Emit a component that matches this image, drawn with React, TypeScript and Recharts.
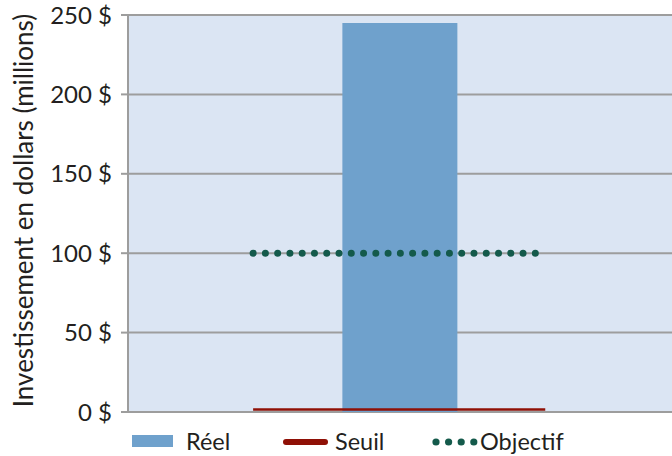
import React from "react";
import {
  ComposedChart,
  Bar,
  Line,
  XAxis,
  YAxis,
  CartesianGrid,
  Legend,
} from "recharts";

// Positions along the category span (0..1) of the single group
const xPositions = [0.23, 0.5, 0.767];
const reelValues = [null, 245, null];
const seuilValues = [1.5, null, 1.5];
const objectifValues = [100, null, 100];
const yTicks = [0, 50, 100, 150, 200, 250];
const yAxisTitle = "Investissement en dollars (millions)";
const legendLabels = ["Réel", "Seuil", "Objectif"];

const data = xPositions.map((x, i) => ({
  x,
  reel: reelValues[i],
  seuil: seuilValues[i],
  objectif: objectifValues[i],
}));

const FONT = "Lato, 'Open Sans', sans-serif";
const TEXT = "#231f20";
const GRID = "#9d9d9d";
const BG = "#dbe5f3";
const BLUE = "#6fa1cc";
const RED = "#8f1006";
const GREEN = "#145a4b";

const LegendContent = () => (
  <svg width={672} height={36} style={{ display: "block" }}>
    <rect x={132} y={15} width={41} height={12} fill={BLUE} />
    <text x={186} y={30} fontFamily={FONT} fontSize={23.5} fill={TEXT}>
      {legendLabels[0]}
    </text>
    <line x1={286} y1={22} x2={325} y2={22} stroke={RED} strokeWidth={6} strokeLinecap="round" />
    <text x={335} y={30} fontFamily={FONT} fontSize={23.5} fill={TEXT}>
      {legendLabels[1]}
    </text>
    {[0, 1, 2, 3].map((k) => (
      <circle key={k} cx={436 + k * 12.6} cy={22} r={3.6} fill={GREEN} />
    ))}
    <text x={480} y={30} fontFamily={FONT} fontSize={23.5} fill={TEXT}>
      {legendLabels[2]}
    </text>
  </svg>
);

const YTitle = (props: any) => {
  const vb = props.viewBox || {};
  const cx = (vb.x || 0) + 23;
  const cy = (vb.y || 0) + (vb.height || 0) / 2 - 3;
  return (
    <text
      x={cx}
      y={cy}
      transform={`rotate(-90, ${cx}, ${cy})`}
      textAnchor="middle"
      dominantBaseline="central"
      fontFamily={FONT}
      fontSize={26}
      fill={TEXT}
    >
      {yAxisTitle}
    </text>
  );
};

export default function App() {
  return (
    <div style={{ position: "absolute", left: 0, top: 0 }}>
      <ComposedChart
        width={672}
        height={456}
        data={data}
        margin={{ top: 15, right: 0, bottom: 8, left: 0 }}
      >
        <CartesianGrid
          vertical={false}
          stroke={GRID}
          strokeWidth={2}
          fill={BG}
          fillOpacity={1}
        />
        <XAxis
          dataKey="x"
          type="number"
          domain={[0, 1]}
          height={0}
          tick={false}
          tickLine={false}
          axisLine={{ stroke: GRID, strokeWidth: 3 }}
        />
        <YAxis
          width={128}
          domain={[0, 250]}
          ticks={yTicks}
          interval={0}
          tickFormatter={(v: number) => `${v} $`}
          tick={{ fontFamily: FONT, fontSize: 24, fill: TEXT }}
          tickSize={7}
          tickMargin={9}
          tickLine={{ stroke: GRID, strokeWidth: 2 }}
          axisLine={{ stroke: GRID, strokeWidth: 2 }}
          label={<YTitle />}
        />
        <Legend
          verticalAlign="bottom"
          wrapperStyle={{ position: "absolute", left: 0, top: 420, width: 672, height: 36 }}
          content={<LegendContent />}
        />
        <Bar dataKey="reel" fill={BLUE} barSize={115} isAnimationActive={false} />
        <Line
          dataKey="seuil"
          stroke={RED}
          strokeWidth={2.5}
          dot={false}
          connectNulls
          isAnimationActive={false}
        />
        <Line
          dataKey="objectif"
          stroke={GREEN}
          strokeWidth={7}
          strokeDasharray="0 12.27"
          strokeLinecap="round"
          dot={false}
          connectNulls
          isAnimationActive={false}
        />
      </ComposedChart>
    </div>
  );
}
